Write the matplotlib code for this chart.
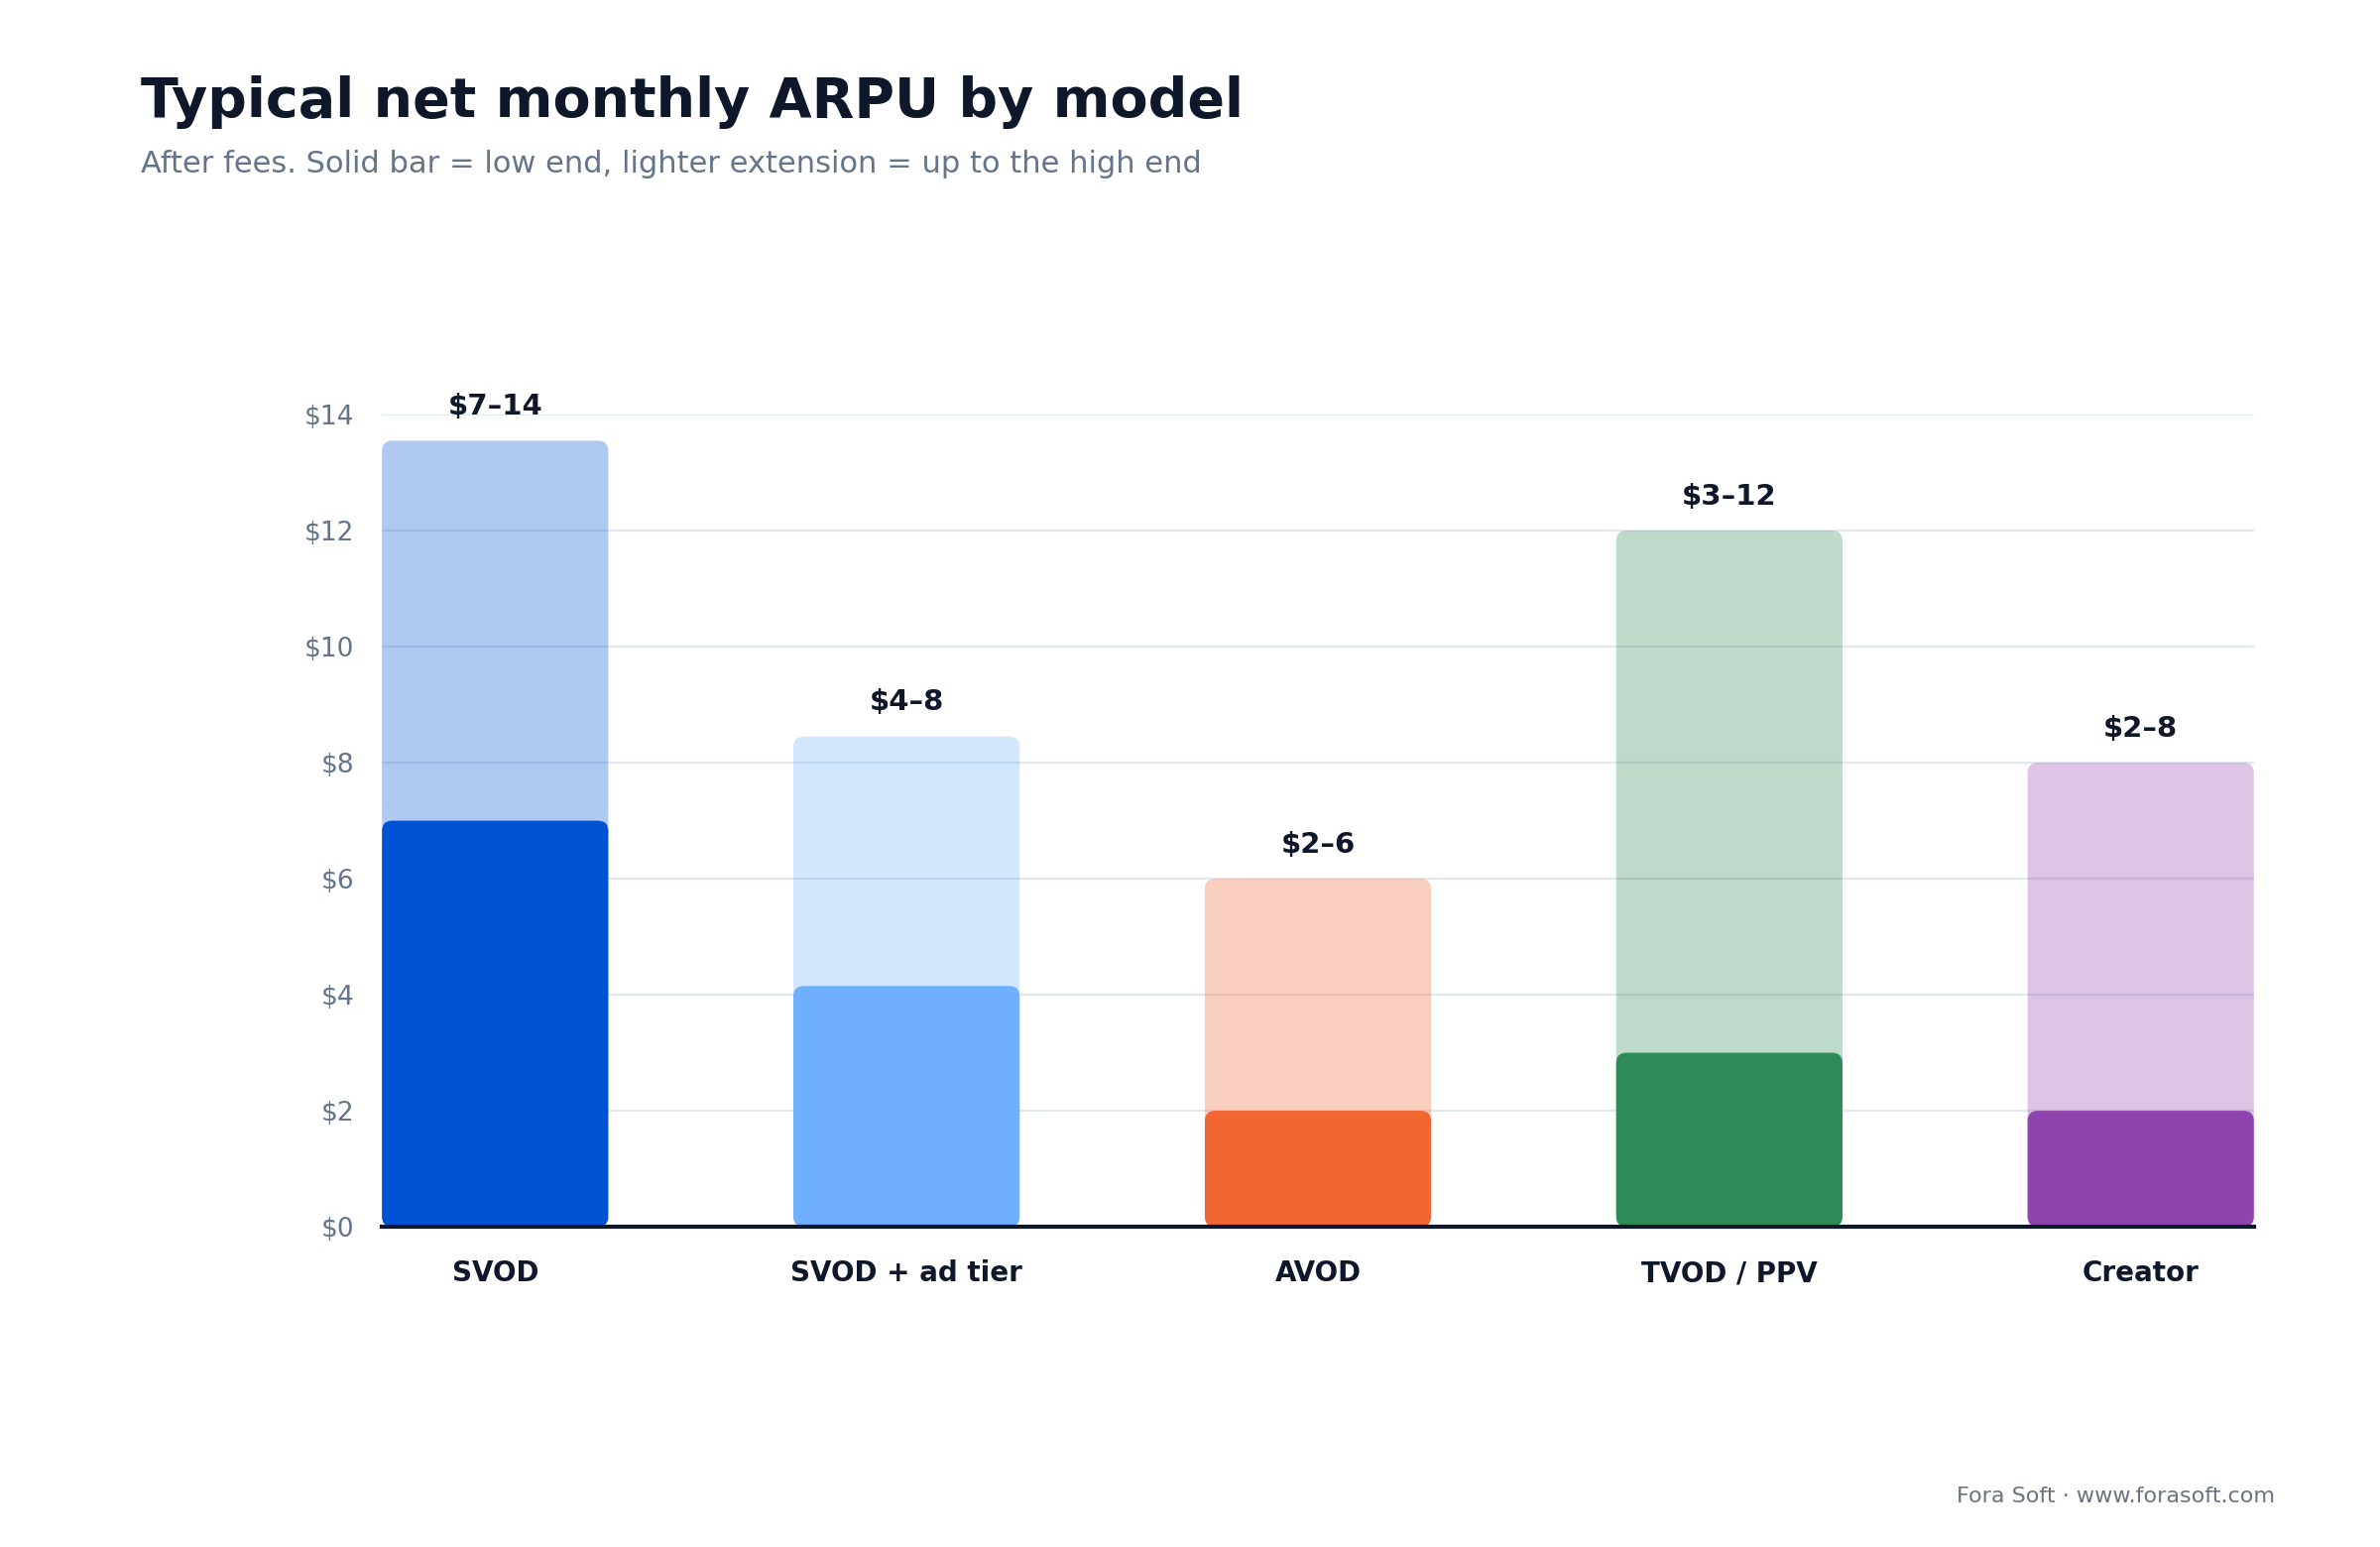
import matplotlib.pyplot as plt
from matplotlib.patches import FancyBboxPatch

models = ["SVOD", "SVOD + ad tier", "AVOD", "TVOD / PPV", "Creator"]
low = [7.0, 4.15, 2.0, 3.0, 2.0]
high = [13.55, 8.45, 6.0, 12.0, 8.0]
labels = ["$7–14", "$4–8", "$2–6", "$3–12", "$2–8"]
colors = ["#0052D4", "#6EB0FE", "#F26633", "#2E8A57", "#8E44AD"]
yticks = [0, 2, 4, 6, 8, 10, 12, 14]

fig = plt.figure(figsize=(12, 7.8), dpi=200)
ax = fig.add_axes([0.1605, 0.207, 0.7865, 0.525])
ax.set_xlim(-0.275, 4.275)
ax.set_ylim(0, 14)

w = 0.55
asp = (14 / 536) / (4.55 / 1215)

def rbar(x, h, color, alpha, z):
    p = FancyBboxPatch((x - w / 2, 0), w, h,
                       boxstyle="round,pad=0,rounding_size=0.025",
                       mutation_aspect=asp, facecolor=color, alpha=alpha,
                       edgecolor="none", zorder=z)
    ax.add_patch(p)

for i in range(len(models)):
    rbar(i, high[i], colors[i], 0.31, 2)
    rbar(i, low[i], colors[i], 1.0, 3)
    ax.text(i, high[i] + 0.35, labels[i], ha="center", va="bottom",
            fontsize=10.5, fontweight="bold", color="#0F172A")

ax.set_yticks(yticks)
ax.set_yticklabels([f"${v}" for v in yticks], fontsize=9.5, color="#64748B")
ax.set_xticks(range(len(models)))
ax.set_xticklabels(models, fontsize=10, fontweight="bold", color="#0F172A")
ax.tick_params(length=0)
ax.tick_params(axis="x", pad=12)
ax.tick_params(axis="y", pad=10)
ax.grid(axis="y", color="#E2E8F0", linewidth=0.8, zorder=1)
ax.set_axisbelow(True)
for s in ["top", "right", "left"]:
    ax.spines[s].set_visible(False)
ax.spines["bottom"].set_color("#0F172A")
ax.spines["bottom"].set_linewidth(1.5)
ax.spines["bottom"].set_zorder(4)

fig.text(0.059, 0.934, "Typical net monthly ARPU by model", fontsize=20,
         fontweight="bold", color="#0F172A", va="center")
fig.text(0.059, 0.894, "After fees. Solid bar = low end, lighter extension = up to the high end",
         fontsize=11, color="#64748B", va="center")
fig.text(0.956, 0.033, "Fora Soft · www.forasoft.com", fontsize=8,
         color="#6B7280", ha="right", va="center")

fig.savefig("out.png")
